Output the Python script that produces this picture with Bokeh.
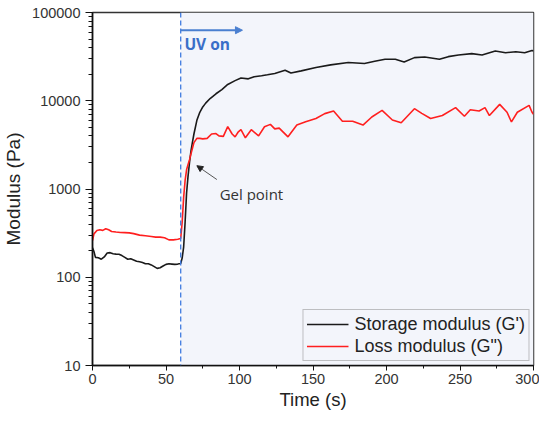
from bokeh.plotting import figure
from bokeh.models import (BoxAnnotation, Span, Arrow, NormalHead, Label,
                          FixedTicker, PrintfTickFormatter)
from bokeh.embed import file_html
from bokeh.resources import INLINE

# ---- data ----
t_storage = [0, 1, 2, 4, 6, 8, 10, 12, 14, 16,
             18, 20, 22, 24, 26, 28, 30, 32, 34, 36,
             38, 40, 42, 44, 46, 48, 50, 52, 54, 56,
             58, 60, 61, 62, 63, 64, 65, 66, 67, 68,
             69, 71, 73, 75, 77, 80, 84, 88, 92, 97,
             101, 106, 110, 115, 119, 124, 131, 135, 142, 152,
             162, 174, 185, 192, 199, 206, 212, 219, 226, 236,
             242, 249, 258, 265, 274, 281, 288, 294, 299, 300]
g_storage = [215, 195, 168, 166, 160, 170, 188, 190, 185, 183,
             182, 176, 168, 160, 162, 157, 152, 150, 147, 142,
             142, 138, 132, 126, 128, 134, 140, 142, 141, 140,
             141, 143, 165, 220, 420, 900, 1400, 2000, 2700, 3400,
             4200, 6000, 7400, 8500, 9400, 10600, 12000, 13400, 15300, 16900,
             18100, 17700, 18700, 19200, 19700, 20400, 22200, 20600, 21800, 23800,
             25500, 27100, 26400, 28000, 29500, 29500, 27500, 30800, 31300, 29500,
             31600, 33000, 34200, 33000, 36600, 35000, 35900, 35000, 37200, 36600]

t_loss = [0, 1, 3, 5, 7, 9, 11, 13, 16, 19,
          22, 25, 28, 32, 36, 40, 43, 46, 49, 52,
          55, 58, 60, 61, 62, 63, 64, 65, 66, 67,
          68, 69, 71, 73, 75, 78, 81, 84, 86, 89,
          92, 95, 97, 99, 101, 104, 108, 113, 117, 121,
          124, 127, 133, 139, 145, 152, 158, 164, 170, 177,
          184, 190, 197, 204, 210, 219, 224, 230, 238, 247,
          253, 257, 263, 267, 270, 277, 282, 285, 289, 297,
          299, 300]
g_loss = [260, 310, 338, 345, 340, 355, 345, 330, 325, 322,
          320, 318, 312, 300, 295, 290, 285, 285, 280, 265,
          265, 270, 275, 420, 800, 1250, 1650, 1900, 2150, 2500,
          2900, 3350, 3750, 3750, 3700, 3750, 4200, 4250, 4000, 3950,
          5100, 4200, 3900, 4400, 4700, 3800, 4700, 4000, 5070, 5400,
          4800, 4900, 3900, 5300, 5770, 6300, 7150, 7650, 5860, 5860,
          5300, 6550, 7780, 6050, 5630, 8130, 7200, 6300, 6800, 8350,
          6680, 7900, 7650, 8350, 6800, 9100, 7400, 5750, 7400, 8850,
          7400, 7000]

x_ticks = [0, 50, 100, 150, 200, 250, 300]
x_minor = [25, 75, 125, 175, 225, 275]
y_ticks = [10, 100, 1000, 10000, 100000]
y_minor = [m * d for d in [10, 100, 1000, 10000] for m in range(2, 10)]

uv_time = 60
uv_arrow_end = 102
uv_arrow_y = 63000
gel_tip = (71, 1837)
gel_tail = (84.6, 1280)

FONT = "Liberation Sans"

p = figure(frame_width=441, frame_height=353, y_axis_type="log",
           x_range=(0, 300), y_range=(10, 100000),
           output_backend="svg", toolbar_location=None,
           min_border_left=92, min_border_top=12, min_border_right=6,
           min_border_bottom=10)
p.background_fill_color = "#ffffff"
p.border_fill_color = "#ffffff"
p.outline_line_color = "#333333"
p.outline_line_width = 1.5
p.xgrid.visible = False
p.ygrid.visible = False

p.add_layout(BoxAnnotation(left=uv_time, right=300, fill_color="#f3f5fb",
                           fill_alpha=1.0, line_alpha=0, level="underlay"))
p.add_layout(Span(location=uv_time, dimension="height", line_color="#3f7be0",
                  line_dash="5 3", line_width=1.3))

r1 = p.line(t_storage, g_storage, line_color="#1a1a1a", line_width=1.6,
            legend_label="Storage modulus (G')")
r2 = p.line(t_loss, g_loss, line_color="#ff1f1f", line_width=1.6,
            legend_label='Loss modulus (G")')

p.add_layout(Arrow(x_start=uv_time, y_start=uv_arrow_y, x_end=uv_arrow_end,
                   y_end=uv_arrow_y, line_color="#4a7fd0", line_width=2,
                   end=NormalHead(size=7, fill_color="#4a7fd0",
                                  line_color="#4a7fd0")))
p.add_layout(Label(x=62.5, y=43500, text="UV on", text_font="Open Sans",
                   text_font_style="bold", text_color="#3a6fc8",
                   text_font_size="15.5px", text_baseline="middle"))
p.add_layout(Arrow(x_start=gel_tail[0], y_start=gel_tail[1], x_end=gel_tip[0],
                   y_end=gel_tip[1], line_color="#555555", line_width=1,
                   end=NormalHead(size=6, fill_color="#222222",
                                  line_color="#222222")))
p.add_layout(Label(x=86.5, y=870, text="Gel point", text_font="Open Sans",
                   text_color="#333333", text_font_size="15px",
                   text_baseline="alphabetic"))

for ax in (p.xaxis[0], p.yaxis[0]):
    ax.axis_line_color = "#111111"
    ax.axis_line_width = 1.5
    ax.major_tick_line_color = "#111111"
    ax.minor_tick_line_color = "#111111"
    ax.major_tick_in = 0
    ax.minor_tick_in = 0
    ax.major_label_text_font = FONT
    ax.major_label_text_font_size = "14.5px"
    ax.major_label_text_color = "#333333"
    ax.axis_label_text_font = FONT
    ax.axis_label_text_font_style = "normal"
    ax.axis_label_text_color = "#222222"

p.xaxis.major_tick_out = 5
p.xaxis.minor_tick_out = 3
p.yaxis.major_tick_out = 7
p.yaxis.minor_tick_out = 4
p.xaxis.ticker = FixedTicker(ticks=x_ticks, minor_ticks=x_minor)
p.yaxis.ticker = FixedTicker(ticks=y_ticks, minor_ticks=y_minor)
p.yaxis.formatter = PrintfTickFormatter(format="%d")
p.xaxis.axis_label = "Time (s)"
p.yaxis.axis_label = "Modulus (Pa)"
p.xaxis.axis_label_text_font_size = "18.5px"
p.yaxis.axis_label_text_font_size = "19px"
p.xaxis.major_label_standoff = 3
p.xaxis.axis_label_standoff = 2
p.yaxis.major_label_standoff = 5
p.yaxis.axis_label_standoff = 5

lg = p.legend[0]
lg.location = "bottom_right"
lg.margin = 4
lg.padding = 3
lg.spacing = 0
lg.glyph_width = 42
lg.glyph_height = 22
lg.label_height = 22
lg.label_standoff = 6
lg.label_text_font = FONT
lg.label_text_font_size = "18px"
lg.label_text_color = "#222222"
lg.border_line_color = "#888888"
lg.border_line_width = 1
lg.background_fill_alpha = 0

open("out.html", "w").write(file_html(p, INLINE))
